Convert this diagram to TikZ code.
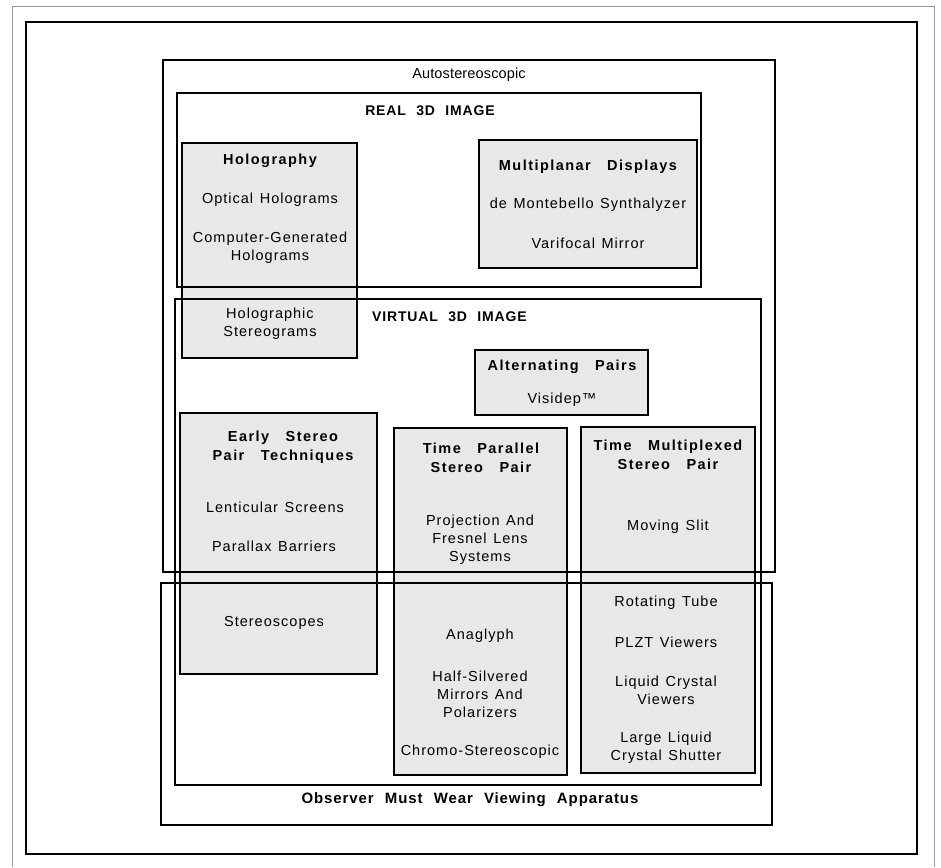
\documentclass[tikz,border=0pt]{standalone}
\usepackage{fontspec}
\setmainfont{Liberation Sans}[LetterSpace=7,WordSpace=1.3]
\newfontfamily\hdfont{Liberation Sans}[LetterSpace=10,WordSpace=3]
\newfontfamily\lbfont{Liberation Sans}[LetterSpace=6,WordSpace=2.2]
\newfontfamily\autofont{Liberation Sans}[LetterSpace=1]
\begin{document}
\begin{tikzpicture}[x=1pt,y=-1pt,
  frame/.style={draw=black, line width=1.1pt},
  shaded/.style={frame, fill=black!9},
  scanedge/.style={draw=black!40, line width=0.7pt},
  txt/.style={inner sep=0pt, align=center, font=\fontsize{14.5}{18}\selectfont},
  hd/.style={inner sep=0pt, align=center, font=\hdfont\bfseries\fontsize{14.5}{19.5}\selectfont},
  lb/.style={inner sep=0pt, align=center, font=\lbfont\bfseries\fontsize{14}{18}\selectfont}]
\useasboundingbox (0,0) rectangle (941,867);
% scan edges
\draw[scanedge] (12,867) -- (12,6) -- (934,6) -- (934,867);
% outer frame
\draw[frame] (26,22) rectangle (917,854);
% shaded boxes
\draw[shaded] (182,143) rectangle (357,358);
\draw[shaded] (479,140) rectangle (697,268);
\draw[shaded] (475,350) rectangle (648,415);
\draw[shaded] (180,413) rectangle (377,674);
\draw[shaded] (394,428) rectangle (567,775);
\draw[shaded] (581,427) rectangle (755,773);
% grouping frames
\draw[frame] (163,60) rectangle (775,572);
\draw[frame] (161,583) rectangle (772,825);
\draw[frame] (177,93) rectangle (701,287);
\draw[frame] (175,299) rectangle (761,785);
% labels
\node[inner sep=0pt, font=\autofont\fontsize{14.5}{17}\selectfont] (auto) at (469,75) {Autostereoscopic};
\node[lb, font=\lbfont\bfseries\fontsize{15}{18}\selectfont] (obs) at (470,800) {Observer Must Wear Viewing Apparatus};
\node[lb] (real) at (430,111) {REAL 3D IMAGE};
\node[lb, anchor=west] (virt) at (372,317) {VIRTUAL 3D IMAGE};
% holography
\node[hd] (holo) at (270,161) {Holography};
\node[txt] (opt) at (270,200) {Optical Holograms};
\node[txt] (cgh) at (270,248) {Computer-Generated\\Holograms};
\node[txt] (hst) at (270,324) {Holographic\\Stereograms};
% multiplanar
\node[hd] (mpd) at (588,167) {Multiplanar Displays};
\node[txt] (dms) at (588,205) {de Montebello Synthalyzer};
\node[txt] (vfm) at (588,243) {Varifocal Mirror};
% alternating
\node[hd] (alt) at (562,367) {Alternating Pairs};
\node[txt] (vis) at (562,400) {Visidep™};
% early stereo
\node[hd] (early) at (283,447) {Early Stereo\\Pair Techniques};
\node[txt] (lent) at (275,507) {Lenticular Screens};
\node[txt] (para) at (274,546) {Parallax Barriers};
\node[txt] (scop) at (274,623) {Stereoscopes};
% time parallel
\node[hd] (tp) at (481,458) {Time Parallel\\Stereo Pair};
\node[txt] (proj) at (480,540) {Projection And\\Fresnel Lens\\Systems};
\node[txt] (ana) at (480,636) {Anaglyph};
\node[txt] (half) at (480,694) {Half-Silvered\\Mirrors And\\Polarizers};
\node[txt] (chromo) at (480,752) {Chromo-Stereoscopic};
% time multiplexed
\node[hd] (tm) at (668,455) {Time Multiplexed\\Stereo Pair};
\node[txt] (slit) at (668,527) {Moving Slit};
\node[txt] (rot) at (666,603) {Rotating Tube};
\node[txt] (plzt) at (666,642) {PLZT Viewers};
\node[txt] (lcv) at (666,690) {Liquid Crystal\\Viewers};
\node[txt] (llc) at (666,748) {Large Liquid\\Crystal Shutter};
\end{tikzpicture}
\end{document}
